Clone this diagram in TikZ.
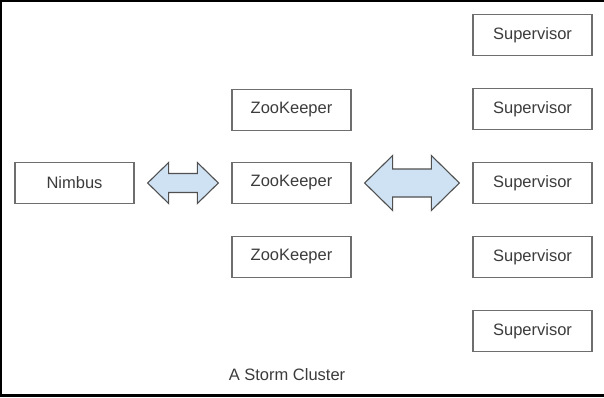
\documentclass[tikz,border=0pt]{standalone}
\usepackage{fontspec}
\setmainfont{Liberation Sans}
\usetikzlibrary{calc}
\definecolor{boxline}{HTML}{6E6E6E}
\definecolor{txt}{HTML}{3C3C3C}
\definecolor{arrfill}{HTML}{CFE2F3}
\definecolor{arrline}{HTML}{505050}
\tikzset{
  box/.style={draw=boxline, line width=1.3pt, minimum width=119pt, minimum height=41pt,
    inner sep=0pt, text=txt, font=\fontsize{16.5}{18}\selectfont},
  barrow/.style={draw=arrline, fill=arrfill, line width=1.1pt, line join=miter},
  frame/.style={draw=black, line width=2.2pt},
  caption/.style={text=txt, font=\fontsize{16.5}{18}\selectfont, inner sep=0pt}
}
\begin{document}
\begin{tikzpicture}[x=1pt, y=-1pt]
\useasboundingbox (0,0) rectangle (604,397);
\fill[white] (0,0) rectangle (604,397);
% frame
\draw[frame] (0,1.1) -- (604,1.1);
\draw[frame] (1.1,0) -- (1.1,397);
\draw[frame] (0,395.5) -- (604,395.5);
% nodes
\node[box] (nim) at (74.5,183) {Nimbus};
\node[box] (zk1) at (291.5,110) {ZooKeeper};
\node[box] (zk2) at (291.5,183) {ZooKeeper};
\node[box] (zk3) at (291.5,257) {ZooKeeper};
\node[box] (s1) at (532.5,35) {Supervisor};
\node[box] (s2) at (532.5,109) {Supervisor};
\node[box] (s3) at (532.5,183) {Supervisor};
\node[box] (s4) at (532.5,257) {Supervisor};
\node[box] (s5) at (532.5,331) {Supervisor};
\node[caption] (cap) at (287,375) {A Storm Cluster};
% block arrows
\coordinate (a1) at ($(nim.east)+(13,0)$);
\coordinate (b1) at ($(zk2.west)+(-13,0)$);
\draw[barrow] (a1) -- ($(a1)+(21,-20.5)$) -- ($(a1)+(21,-9.5)$) -- ($(b1)+(-21,-9.5)$)
  -- ($(b1)+(-21,-20.5)$) -- (b1) -- ($(b1)+(-21,20.5)$) -- ($(b1)+(-21,9.5)$)
  -- ($(a1)+(21,9.5)$) -- ($(a1)+(21,20.5)$) -- cycle;
\coordinate (a2) at ($(zk2.east)+(13,0)$);
\coordinate (b2) at ($(s3.west)+(-13,0)$);
\draw[barrow] (a2) -- ($(a2)+(28,-27.5)$) -- ($(a2)+(28,-14)$) -- ($(b2)+(-28,-14)$)
  -- ($(b2)+(-28,-27.5)$) -- (b2) -- ($(b2)+(-28,27.5)$) -- ($(b2)+(-28,14)$)
  -- ($(a2)+(28,14)$) -- ($(a2)+(28,27.5)$) -- cycle;
\end{tikzpicture}
\end{document}
